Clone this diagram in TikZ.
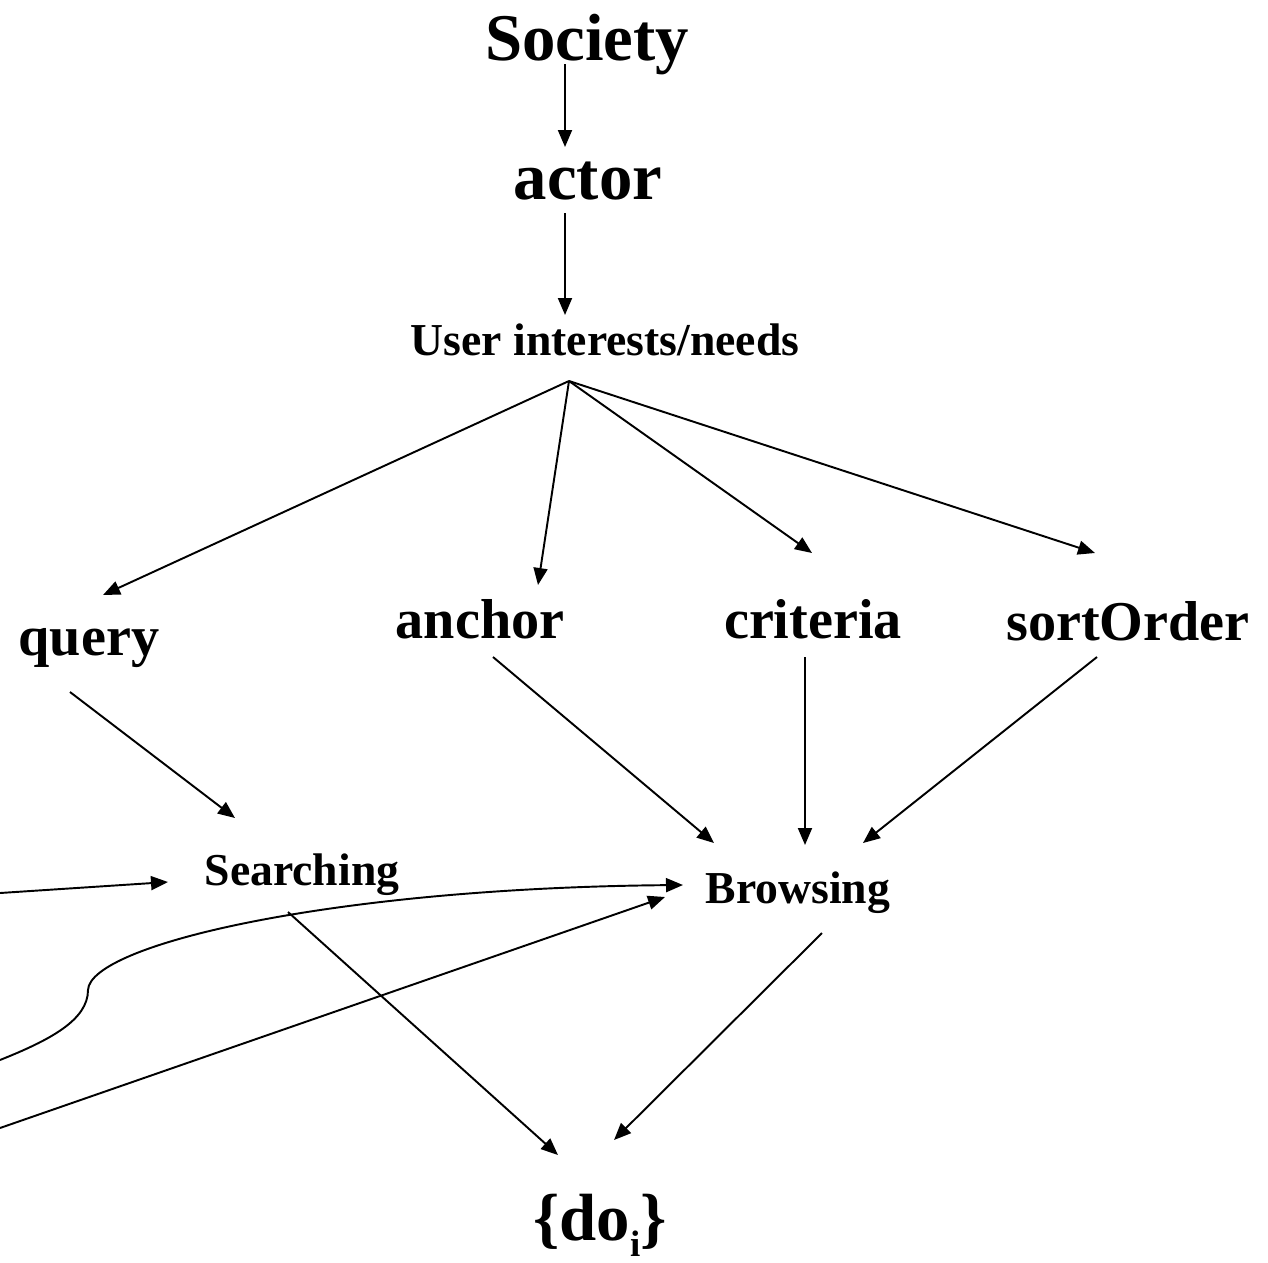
\documentclass[tikz,border=0pt]{standalone}
\usepackage{fontspec}
\setmainfont{Liberation Serif}
\usetikzlibrary{arrows.meta}
\begin{document}
\begin{tikzpicture}[x=0.02cm,y=-0.02cm,
  lbl/.style={inner sep=0pt, anchor=base},
  big/.style={lbl, font=\fontsize{38}{44}\selectfont\bfseries},
  mid/.style={lbl, font=\fontsize{32}{38}\selectfont\bfseries},
  small/.style={lbl, font=\fontsize{26}{31}\selectfont\bfseries},
  link/.style={line width=1.1pt, -{Triangle[length=0.34cm,width=0.28cm]}},
]
\useasboundingbox (0,0) rectangle (1268,1262);

% labels
\node[big]   (society)   at (587,60)   {Society};
\node[big]   (actor)     at (588,199)  {actor};
\node[small] (needs)     at (605,355)  {User interests/needs};
\node[mid]   (query)     at (89,655)   {query};
\node[mid]   (anch)      at (480,638)  {anchor};
\node[mid]   (criteria)  at (813,638)  {criteria};
\node[mid]   (sortorder) at (1128,640) {sortOrder};
\node[small] (searching) at (302,885)  {Searching};
\node[small] (browsing)  at (798,903)  {Browsing};
\node[big]   (dos)       at (600,1240) {\{do\raisebox{-0.24em}{\fontsize{21}{21}\selectfont i}\}};

% connector end points
\coordinate (society-out)   at (565,64);
\coordinate (actor-in)      at (565,147);
\coordinate (actor-out)     at (565,213);
\coordinate (needs-in)      at (565,315);
\coordinate (needs-out)     at (569,381);
\coordinate (query-in)      at (103,595);
\coordinate (anch-in)       at (538,585);
\coordinate (criteria-in)   at (812,553);
\coordinate (sortorder-in)  at (1095,553);
\coordinate (query-out)     at (70,692);
\coordinate (anch-out)      at (493,657);
\coordinate (criteria-out)  at (805,657);
\coordinate (sortorder-out) at (1097,657);
\coordinate (searching-in)  at (235,818);
\coordinate (searching-left) at (168,882);
\coordinate (browsing-a)    at (714,843);
\coordinate (browsing-b)    at (805,845);
\coordinate (browsing-c)    at (863,843);
\coordinate (browsing-curve) at (683,885);
\coordinate (browsing-line) at (665,897);
\coordinate (searching-out) at (288,912);
\coordinate (browsing-out)  at (822,933);
\coordinate (dos-a)         at (558,1155);
\coordinate (dos-b)         at (614,1140);
\coordinate (edge-top)      at (0,893);
\coordinate (edge-mid)      at (0,1060);
\coordinate (edge-low)      at (0,1128);

% connectors
\draw[link] (society-out) -- (actor-in);
\draw[link] (actor-out) -- (needs-in);
\draw[link] (needs-out) -- (query-in);
\draw[link] (needs-out) -- (anch-in);
\draw[link] (needs-out) -- (criteria-in);
\draw[link] (needs-out) -- (sortorder-in);
\draw[link] (query-out) -- (searching-in);
\draw[link] (anch-out) -- (browsing-a);
\draw[link] (criteria-out) -- (browsing-b);
\draw[link] (sortorder-out) -- (browsing-c);
\draw[link] (edge-top) -- (searching-left);
\draw[link] (edge-mid) .. controls (50,1040) and (88,1020) .. (88,990)
  .. controls (90,945) and (330,888) .. (browsing-curve);
\draw[link] (edge-low) -- (browsing-line);
\draw[link] (searching-out) -- (dos-a);
\draw[link] (browsing-out) -- (dos-b);
\end{tikzpicture}
\end{document}
